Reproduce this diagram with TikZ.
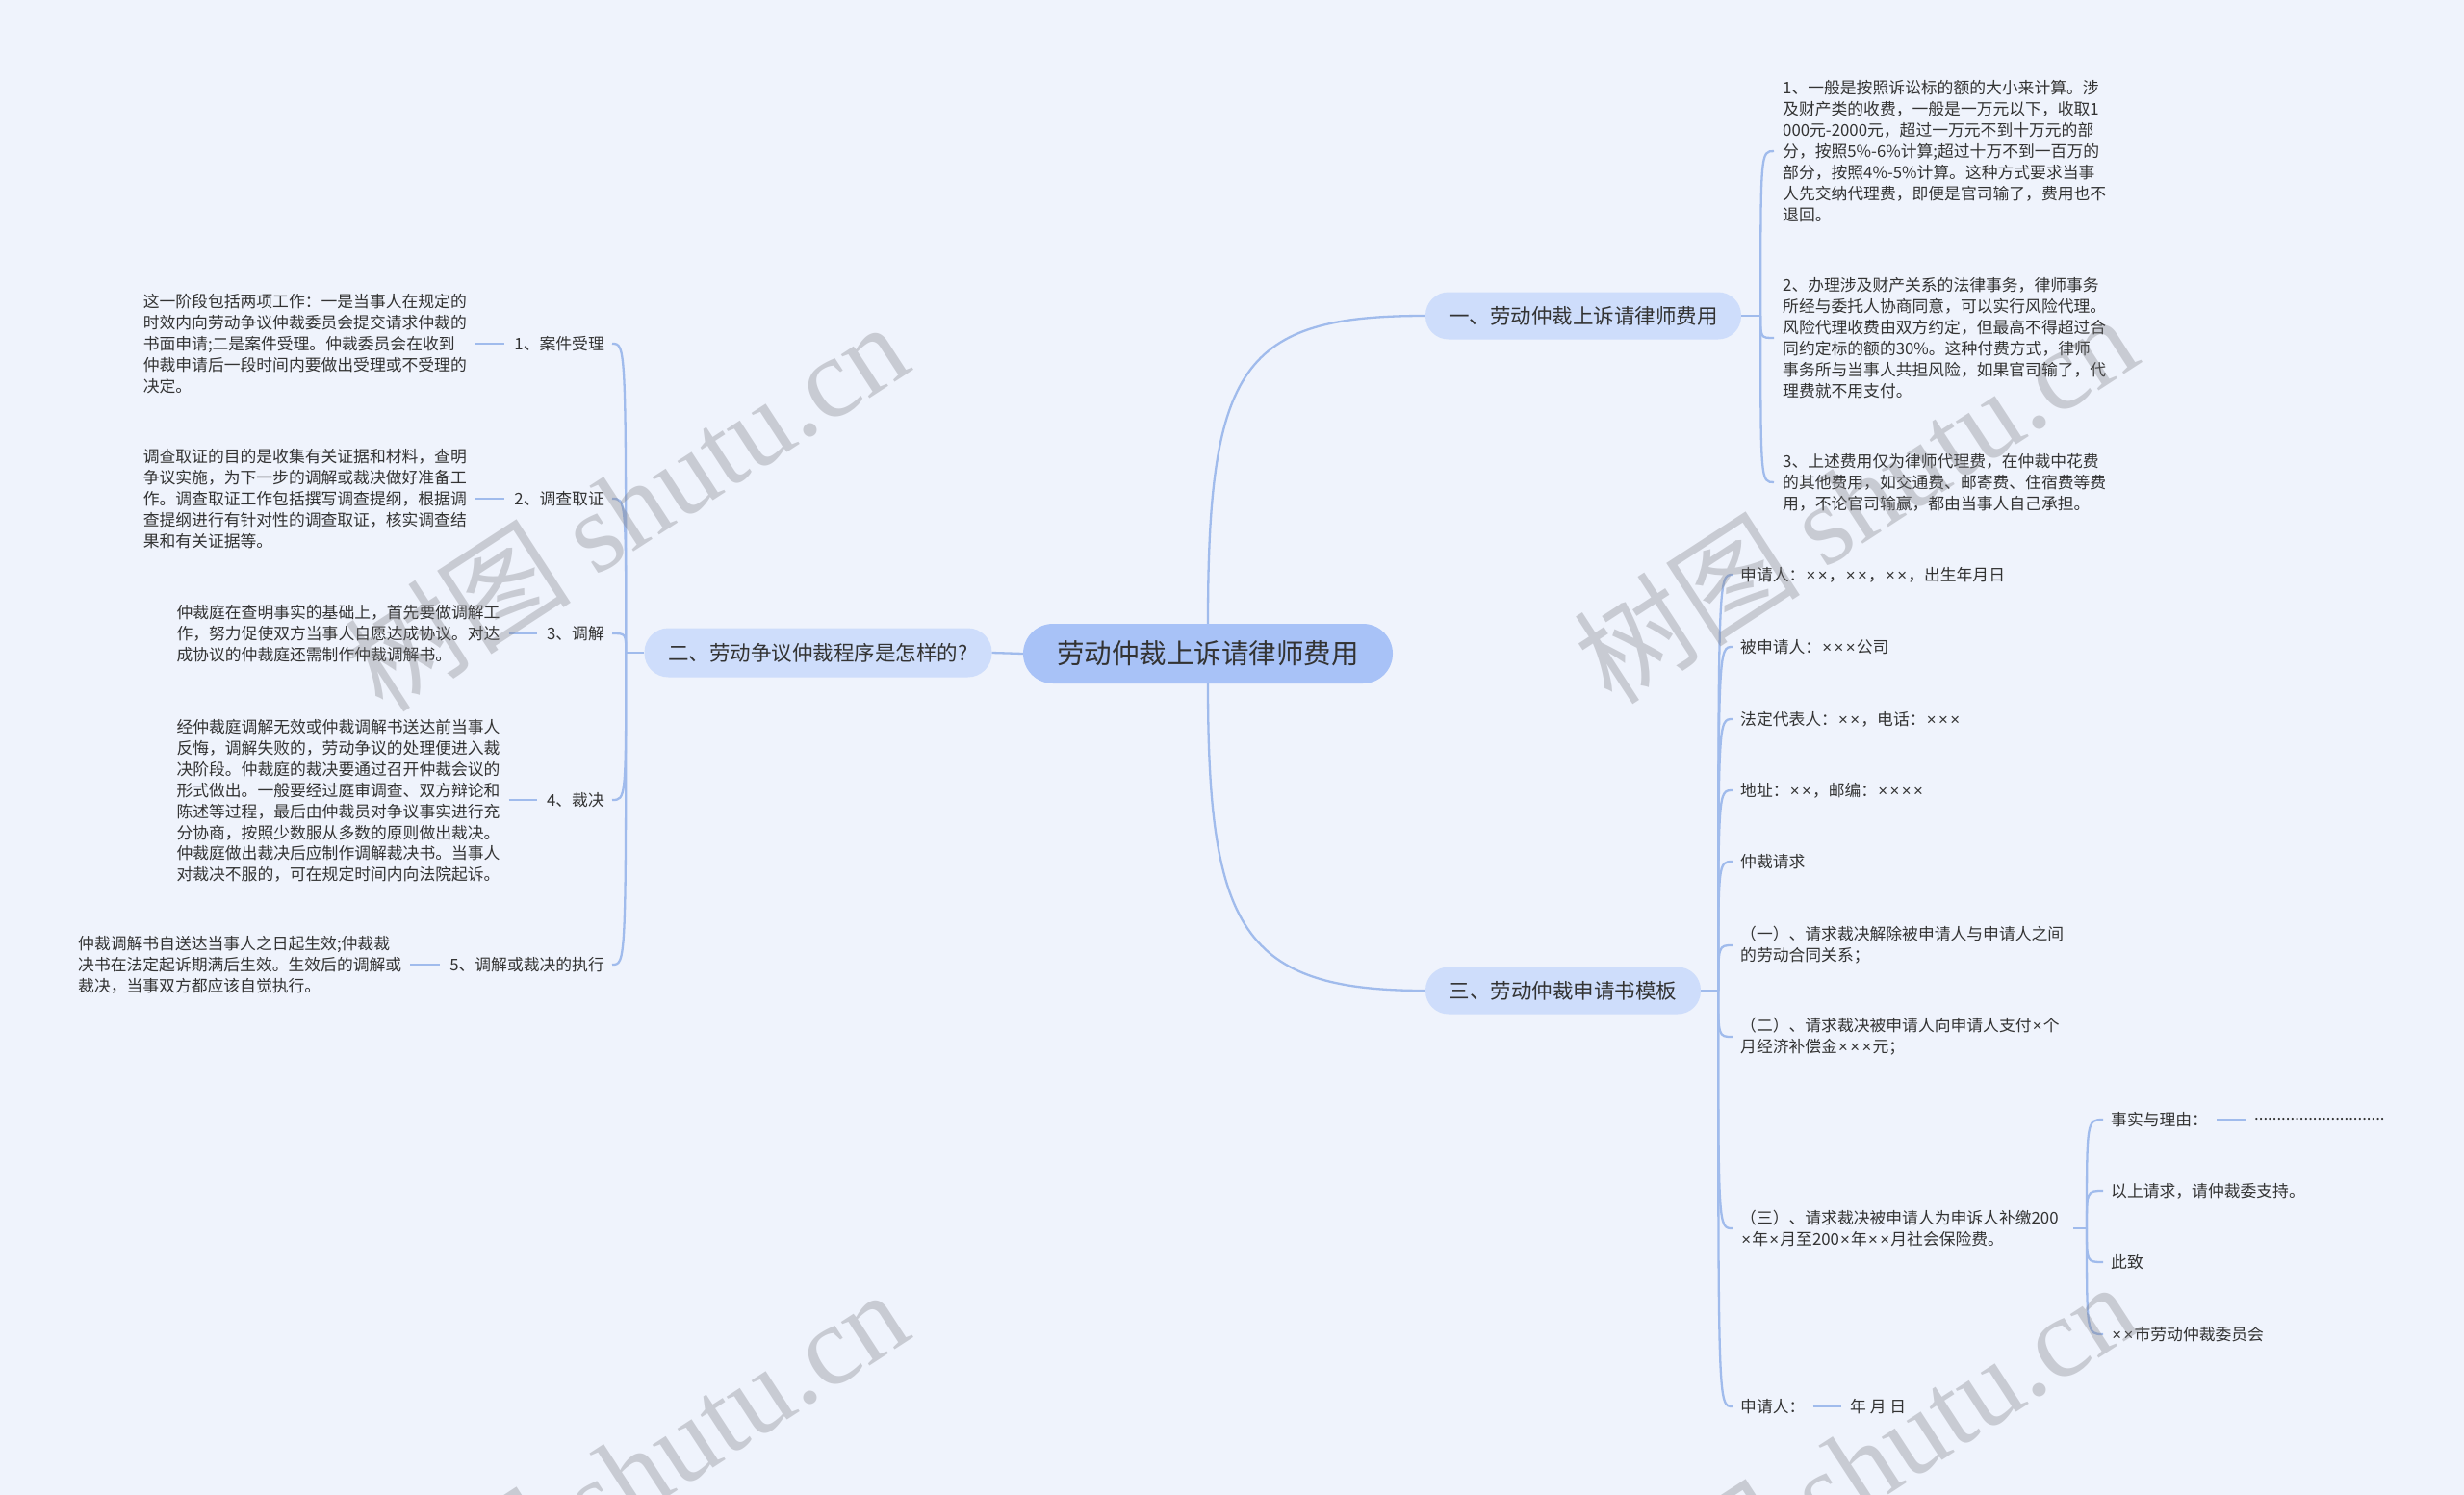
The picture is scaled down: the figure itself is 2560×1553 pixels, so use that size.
\documentclass[tikz,border=0pt]{standalone}
\usepackage{fontspec}
\setmainfont{Noto Sans CJK SC}
\newfontfamily\wmlatin{Liberation Serif}
\newfontfamily\mulfont{Liberation Sans}
\newcommand\mx{\kern1.2pt{\mulfont ×}\kern1.2pt}
\usetikzlibrary{calc}
\definecolor{bg}{RGB}{239,243,252}
\definecolor{rootfill}{RGB}{168,194,247}
\definecolor{brfill}{RGB}{206,221,251}
\definecolor{conn}{RGB}{160,187,236}
\definecolor{txt}{RGB}{51,51,51}
\definecolor{wmc}{RGB}{120,120,125}
\begin{document}
\begin{tikzpicture}[x=1pt,y=-1pt,
  leaf/.style={inner sep=0pt, text=txt, align=left, font=\fontsize{16.8}{21.9}\selectfont},
  rootbox/.style={fill=rootfill, text=txt, rounded corners=31pt, minimum width=384pt, minimum height=62pt, inner sep=0pt, font=\fontsize{28.5}{32}\selectfont},
  brbox/.style={fill=brfill, text=txt, rounded corners=24pt, minimum height=49pt, inner sep=0pt, font=\fontsize{21.5}{26}\selectfont},
  link/.style={draw=conn, line width=2.3pt},
  wm/.style={text=wmc, opacity=0.32, inner sep=0pt, font=\fontsize{118}{120}\selectfont}
]
\useasboundingbox (0,0) rectangle (2560,1553);
\fill[bg] (0,0) rectangle (2560,1553);

% central and main branches
\node[rootbox] (root) at (1255,679) {劳动仲裁上诉请律师费用};
\node[brbox, minimum width=361pt, minimum height=51pt, rounded corners=25pt] (b2) at (850,678) {二、劳动争议仲裁程序是怎样的?};
\node[brbox, minimum width=328pt] (b1) at (1645,328) {一、劳动仲裁上诉请律师费用};
\node[brbox, minimum width=286pt] (b3) at (1624,1029) {三、劳动仲裁申请书模板};

\draw[link] (root.west) -- (b2.east);
\draw[link] (root.north) .. controls ($(root.north)+(0,-268)$) and ($(b1.west)+(-190,0)$) .. (b1.west);
\draw[link] (root.south) .. controls ($(root.south)+(0,255)$) and ($(b3.west)+(-190,0)$) .. (b3.west);

% branch one children
\node[leaf, anchor=west] (a1) at (1852,157) {1、一般是按照诉讼标的额的大小来计算。涉\\及财产类的收费，一般是一万元以下，收取1\\000元-2000元，超过一万元不到十万元的部\\分，按照5\%-6\%计算;超过十万不到一百万的\\部分，按照4\%-5\%计算。这种方式要求当事\\人先交纳代理费，即便是官司输了，费用也不\\退回。};
\node[leaf, anchor=west] (a2) at (1852,351) {2、办理涉及财产关系的法律事务，律师事务\\所经与委托人协商同意，可以实行风险代理。\\风险代理收费由双方约定，但最高不得超过合\\同约定标的额的30\%。这种付费方式，律师\\事务所与当事人共担风险，如果官司输了，代\\理费就不用支付。};
\node[leaf, anchor=west] (a3) at (1852,501) {3、上述费用仅为律师代理费，在仲裁中花费\\的其他费用，如交通费、邮寄费、住宿费等费\\用，不论官司输赢，都由当事人自己承担。};

\draw[link] (b1.east) -- ++(20,0) coordinate (t1);
\foreach \c in {a1,a2,a3}
  \draw[link] (t1) .. controls (t1 |- \c.west) .. ([xshift=-9]\c.west);

% branch two children
\node[leaf, anchor=east] (l1) at (628,357) {1、案件受理};
\node[leaf, anchor=east] (l2) at (628,518) {2、调查取证};
\node[leaf, anchor=east] (l3) at (628,658) {3、调解};
\node[leaf, anchor=east] (l4) at (628,831) {4、裁决};
\node[leaf, anchor=east] (l5) at (628,1002) {5、调解或裁决的执行};

\draw[link] (b2.west) -- ++(-19,0) coordinate (t2);
\foreach \c in {l1,l2,l3,l4,l5}
  \draw[link] (t2) .. controls (t2 |- \c.east) .. ([xshift=8]\c.east);

\node[leaf, anchor=west] (d1) at (148.6,357) {这一阶段包括两项工作：一是当事人在规定的\\时效内向劳动争议仲裁委员会提交请求仲裁的\\书面申请;二是案件受理。仲裁委员会在收到\\仲裁申请后一段时间内要做出受理或不受理的\\决定。};
\node[leaf, anchor=west] (d2) at (148.6,518) {调查取证的目的是收集有关证据和材料，查明\\争议实施，为下一步的调解或裁决做好准备工\\作。调查取证工作包括撰写调查提纲，根据调\\查提纲进行有针对性的调查取证，核实调查结\\果和有关证据等。};
\node[leaf, anchor=west] (d3) at (183.3,658) {仲裁庭在查明事实的基础上，首先要做调解工\\作，努力促使双方当事人自愿达成协议。对达\\成协议的仲裁庭还需制作仲裁调解书。};
\node[leaf, anchor=west] (d4) at (183.3,832) {经仲裁庭调解无效或仲裁调解书送达前当事人\\反悔，调解失败的，劳动争议的处理便进入裁\\决阶段。仲裁庭的裁决要通过召开仲裁会议的\\形式做出。一般要经过庭审调查、双方辩论和\\陈述等过程，最后由仲裁员对争议事实进行充\\分协商，按照少数服从多数的原则做出裁决。\\仲裁庭做出裁决后应制作调解裁决书。当事人\\对裁决不服的，可在规定时间内向法院起诉。};
\node[leaf, anchor=west] (d5) at (81,1002) {仲裁调解书自送达当事人之日起生效;仲裁裁\\决书在法定起诉期满后生效。生效后的调解或\\裁决，当事双方都应该自觉执行。};

\foreach \d/\l in {d1/l1,d2/l2,d3/l3,d4/l4,d5/l5}
  \draw[link] ([xshift=9]\d.east |- \l.west) -- ([xshift=-10]\l.west);

% branch three children
\node[leaf, anchor=west] (c1) at (1808,597) {申请人：\mx\mx，\mx\mx，\mx\mx，出生年月日};
\node[leaf, anchor=west] (c2) at (1808,672) {被申请人：\mx\mx\mx 公司};
\node[leaf, anchor=west] (c3) at (1808,747) {法定代表人：\mx\mx，电话：\mx\mx\mx};
\node[leaf, anchor=west] (c4) at (1808,821) {地址：\mx\mx，邮编：\mx\mx\mx\mx};
\node[leaf, anchor=west] (c5) at (1808,895) {仲裁请求};
\node[leaf, anchor=west] (c6) at (1808,982) {（一）、请求裁决解除被申请人与申请人之间\\的劳动合同关系；};
\node[leaf, anchor=west] (c7) at (1808,1077) {（二）、请求裁决被申请人向申请人支付\mx 个\\月经济补偿金\mx\mx\mx 元；};
\node[leaf, anchor=west] (c8) at (1808,1276) {（三）、请求裁决被申请人为申诉人补缴200\\\mx 年\mx 月至200\mx 年\mx\mx 月社会保险费。};
\node[leaf, anchor=west] (c9) at (1808,1461) {申请人：};
\node[leaf, anchor=west] (c9a) at (1922,1461) {年 月 日};

\draw[link] (b3.east) -- ++(18,0) coordinate (t3);
\foreach \c in {c1,c2,c3,c4,c5,c6,c7,c8,c9}
  \draw[link] (t3) .. controls (t3 |- \c.west) .. ([xshift=-8]\c.west);
\draw[link] ([xshift=8]c9.east) -- ([xshift=-9]c9a.west);

% sub-children of (三)
\node[leaf, anchor=west] (e1) at (2193,1163) {事实与理由：};
\node[leaf, anchor=west] (e1a) at (2342,1163) {.............................};
\node[leaf, anchor=west] (e2) at (2193,1237) {以上请求，请仲裁委支持。};
\node[leaf, anchor=west] (e3) at (2193,1311) {此致};
\node[leaf, anchor=west] (e4) at (2193,1386) {\mx\mx 市劳动仲裁委员会};

\coordinate (t4) at ([xshift=-25]e1.west |- c8.east);
\draw[link] ([xshift=-39]e1.west |- c8.east) -- (t4);
\foreach \c in {e1,e2,e3,e4}
  \draw[link] (t4) .. controls (t4 |- \c.west) .. ([xshift=-8]\c.west);
\draw[link] ([xshift=9]e1.east) -- ([xshift=-9]e1a.west);

% watermarks
\node[wm, rotate=33] (w1) at (650,525) {树图 {\wmlatin shutu.cn}};
\node[wm, rotate=33] (w2) at (1927,517) {树图 {\wmlatin shutu.cn}};
\node[wm, rotate=33] (w3) at (650,1530) {树图 {\wmlatin shutu.cn}};
\node[wm, rotate=33] (w4) at (1927,1522) {树图 {\wmlatin shutu.cn}};
\end{tikzpicture}
\end{document}
